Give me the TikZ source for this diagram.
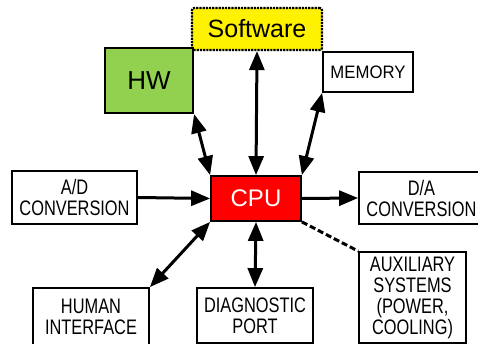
\documentclass[tikz,border=0pt]{standalone}
\usepackage{fontspec}
\setmainfont{Liberation Sans}
\newfontfamily\labfont[FakeStretch=0.78]{Liberation Sans}
\newfontfamily\memfont[FakeStretch=0.93]{Liberation Sans}
\usetikzlibrary{arrows.meta}
\definecolor{hwgreen}{HTML}{92D050}
\tikzset{
  box/.style={draw=black, line width=1.8pt, fill=white, align=center, inner sep=0pt,
    font=\labfont\fontsize{21}{21}\selectfont},
  bigtip/.tip={Triangle[length=19pt,width=15pt]},
  link/.style={line width=3pt, bigtip-bigtip},
  onelink/.style={line width=3pt, -bigtip},
}
\begin{document}
\begin{tikzpicture}[x=1pt,y=-1pt]
\useasboundingbox (0,0) rectangle (478,344);
\node[box, draw=black, line width=2.2pt, densely dotted, fill=yellow, rounded corners=2pt,
  minimum width=130pt, minimum height=42pt, font=\fontsize{25}{28}\selectfont] (sw) at (257,29) {Software};
\node[box, line width=2.2pt, fill=hwgreen, minimum width=88pt, minimum height=65pt,
  font=\fontsize{26}{30}\selectfont] (hw) at (149,80.5) {HW};
\node[box, minimum width=90pt, minimum height=40pt, font=\memfont\fontsize{18}{20}\selectfont] (mem) at (368,72) {MEMORY};
\node[box, minimum width=125pt, minimum height=53pt] (ad) at (74.5,197.5) {A/D\\CONVERSION};
\node[box, fill=red, minimum width=90pt, minimum height=45pt, text=white,
  font=\fontsize{24}{28}\selectfont] (cpu) at (256,198.5) {CPU};
\node[box, minimum width=125pt, minimum height=52pt] (da) at (421.5,198) {D/A\\CONVERSION};
\node[box, minimum width=116pt, minimum height=58pt] (hi) at (91,317) {HUMAN\\INTERFACE};
\node[box, minimum width=116pt, minimum height=55pt] (dp) at (255,315.5) {DIAGNOSTIC\\PORT};
\node[box, minimum width=107pt, minimum height=91pt] (aux) at (412.5,297.5) {AUXILIARY\\SYSTEMS\\(POWER,\\COOLING)};
\draw[link] (hw.south east) -- (cpu.north west);
\draw[link] (sw.south) -- (cpu.north);
\draw[link] (mem.south west) -- (cpu.north east);
\draw[onelink] (ad.east) -- (cpu.west);
\draw[onelink] (cpu.east) -- (da.west);
\draw[link] (hi.north east) -- (cpu.south west);
\draw[link] (dp.north) -- (cpu.south);
\draw[line width=3pt, dash pattern=on 6pt off 3pt] (cpu.south east) -- (aux.north west);
\end{tikzpicture}
\end{document}
